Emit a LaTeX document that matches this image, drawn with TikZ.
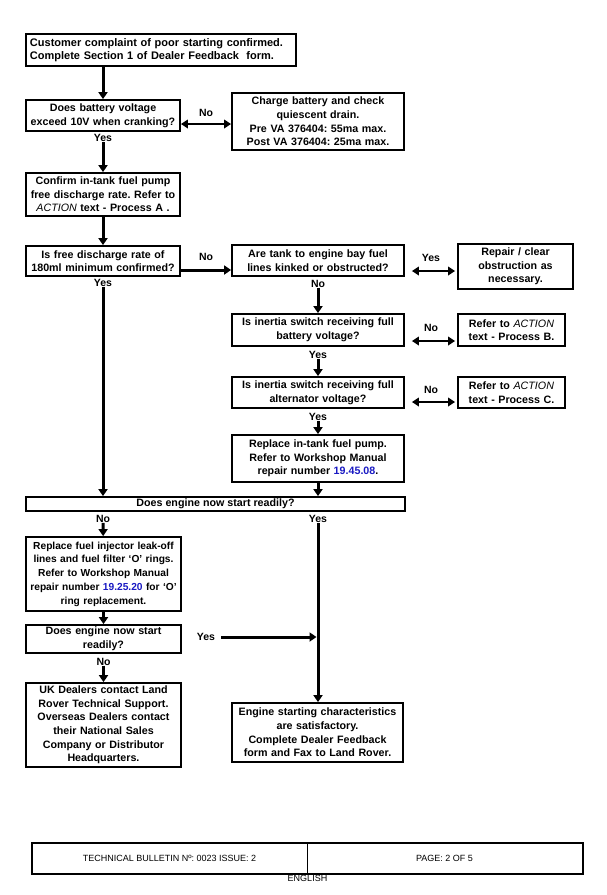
\documentclass[tikz,border=0pt]{standalone}
\usepackage{fontspec}
\setmainfont{Liberation Sans}
\usetikzlibrary{arrows.meta,positioning}
\definecolor{refblue}{RGB}{25,25,195}
\frenchspacing
\tikzstyle{box}=[rectangle,draw,line width=1.8pt,align=center,inner sep=0pt,font=\fontsize{10.7}{13.6}\selectfont\bfseries]
\tikzstyle{lcol}=[box,minimum width=154pt,text width=154pt]
\tikzstyle{mcol}=[box,minimum width=172pt,text width=170pt]
\tikzstyle{rcol}=[box,minimum width=107pt,text width=107pt]
\tikzstyle{lbl}=[inner sep=0pt,font=\fontsize{10.5}{11}\selectfont\bfseries]
\tikzstyle{foot}=[rectangle,draw,line width=1pt,inner sep=0pt,minimum height=30pt,font=\fontsize{9}{10}\selectfont]
\tikzstyle{arr}=[-{Triangle[length=7pt,width=9pt]},line width=3pt]
\tikzstyle{darr}=[{Triangle[length=7pt,width=8.5pt]}-{Triangle[length=7pt,width=8.5pt]},line width=2.5pt]
\newcommand{\rno}[1]{\textcolor{refblue}{#1}}
\begin{document}
\begin{tikzpicture}[x=1pt,y=-1pt]
\useasboundingbox[fill=white] (0,0) rectangle (607,895);
% left column
\node (complaint) [box,minimum width=270pt,minimum height=32pt,text width=262pt,align=left,font=\fontsize{11}{13}\selectfont\bfseries] at (161,50) {Customer complaint of poor starting confirmed.\\Complete Section 1 of Dealer Feedback\ \ form.};
\node (battery) [lcol,minimum height=31pt] at (103,115.5) {Does battery voltage\\exceed 10V when cranking?};
\node (charge) [mcol,minimum height=57pt] at (318,121.5) {Charge battery and check\\quiescent drain.\\Pre VA 376404: 55ma max.\\Post VA 376404: 25ma max.};
\node (confirm) [lcol,minimum height=43pt] at (103,194.5) {Confirm in-tank fuel pump\\free discharge rate. Refer to\\\textit{\mdseries ACTION} text - Process A .};
\node (rate) [lcol,minimum height=30pt] at (103,261) {Is free discharge rate of\\180ml minimum confirmed?};
% middle and right columns
\node (lines) [mcol,minimum height=31pt] at (318,260.5) {Are tank to engine bay fuel\\lines kinked or obstructed?};
\node (repair) [box,minimum width=115pt,text width=113pt,minimum height=45pt] at (515.5,266.5) {Repair / clear\\obstruction as\\necessary.};
\node (switchbat) [mcol,minimum height=32pt] at (318,330) {Is inertia switch receiving full\\battery voltage?};
\node (procb) [rcol,minimum height=32pt] at (511.5,330) {Refer to \textit{\mdseries ACTION}\\text - Process B.};
\node (switchalt) [mcol,minimum height=31pt] at (318,392.5) {Is inertia switch receiving full\\alternator voltage?};
\node (procc) [rcol,minimum height=31pt] at (511.5,392.5) {Refer to \textit{\mdseries ACTION}\\text - Process C.};
\node (pump) [mcol,minimum height=47pt] at (318,458.5) {Replace in-tank fuel pump.\\Refer to Workshop Manual\\repair number \rno{19.45.08}.};
\node (bar) [box,minimum width=379pt,minimum height=14pt] at (215.5,504) {Does engine now start readily?};
% lower part
\node (injector) [box,minimum width=155pt,text width=155pt,minimum height=74pt,font=\fontsize{10.2}{13.7}\selectfont\bfseries] at (103.5,574) {Replace fuel injector leak-off\\lines and fuel filter ‘O’ rings.\\Refer to Workshop Manual\\repair number \rno{19.25.20} for ‘O’\\ring replacement.};
\node (again) [box,minimum width=155pt,text width=153pt,minimum height=28pt] at (103.5,639) {Does engine now start\\readily?};
\node (dealers) [box,minimum width=155pt,text width=153pt,minimum height=84pt] at (103.5,725) {UK Dealers contact Land\\Rover Technical Support.\\Overseas Dealers contact\\their National Sales\\Company or Distributor\\Headquarters.};
\node (satisfied) [box,minimum width=171pt,text width=169pt,minimum height=59pt] at (317.5,732.5) {Engine starting characteristics\\are satisfactory.\\Complete Dealer Feedback\\form and Fax to Land Rover.};
% labels
\node (yes1) [lbl,below=2.5pt of battery] {Yes};
\node (yes2) [lbl,below=2pt of rate] {Yes};
\node (no3) [lbl,below=3pt of lines] {No};
\node (yes4) [lbl,below=4pt of switchbat] {Yes};
\node (yes5) [lbl,below=4pt of switchalt] {Yes};
\node (no6) [lbl] at (103,519) {No};
\node (yes7) [lbl] at (318,519) {Yes};
\node (no8) [lbl,below=4pt of again] {No};
\node (yes9) [lbl] at (206,637) {Yes};
% connectors
\draw [arr] (battery |- complaint.south) -- (battery);
\draw [darr] ([yshift=-8.5pt]battery.east) -- ([yshift=-8.5pt]battery.east -| charge.west) node (no1) [lbl,midway,above=6.5pt] {No};
\draw [arr] (yes1) -- (confirm);
\draw [arr] (confirm) -- (rate);
\draw [arr] ([yshift=-9pt]rate.east) -- ([yshift=-9pt]rate.east -| lines.west) node (no2) [lbl,midway,above=8pt] {No};
\draw [darr,shorten <=7pt,shorten >=2pt] ([yshift=-10.5pt]lines.east) -- ([yshift=-10.5pt]lines.east -| repair.west) node (yes3) [lbl,midway,above=8.5pt] {Yes};
\draw [arr] (yes2) -- (yes2 |- bar.north);
\draw [arr] (no3) -- (switchbat);
\draw [darr,shorten <=7pt,shorten >=2pt] ([yshift=-11pt]switchbat.east) -- ([yshift=-11pt]switchbat.east -| procb.west) node (no4) [lbl,midway,above=8pt] {No};
\draw [arr] (yes4) -- (switchalt);
\draw [darr,shorten <=7pt,shorten >=2pt] ([yshift=-9.5pt]switchalt.east) -- ([yshift=-9.5pt]switchalt.east -| procc.west) node (no5) [lbl,midway,above=7pt] {No};
\draw [arr] (yes5) -- (pump);
\draw [arr] (pump) -- (pump |- bar.north);
\draw [arr] (no6) -- (injector);
\draw [arr] (yes7) -- (yes7 |- satisfied.north);
\draw [arr] (injector) -- (again);
\draw [arr] (no8) -- (dealers);
\draw [arr,shorten <=6pt,shorten >=1.5pt] (yes9.east) -- (yes9 -| yes7);
% footer
\node (bulletin) [foot,minimum width=275pt] at (169.5,858) {TECHNICAL BULLETIN Nº: 0023 ISSUE: 2};
\node (page) [foot,minimum width=275pt] at (444.5,858) {PAGE: 2 OF 5};
\draw [line width=2pt] (bulletin.north west) rectangle (page.south east);
\node (lang) [inner sep=0pt,font=\fontsize{9}{10}\selectfont,below=2pt of bulletin.south east] {ENGLISH};
\end{tikzpicture}
\end{document}
